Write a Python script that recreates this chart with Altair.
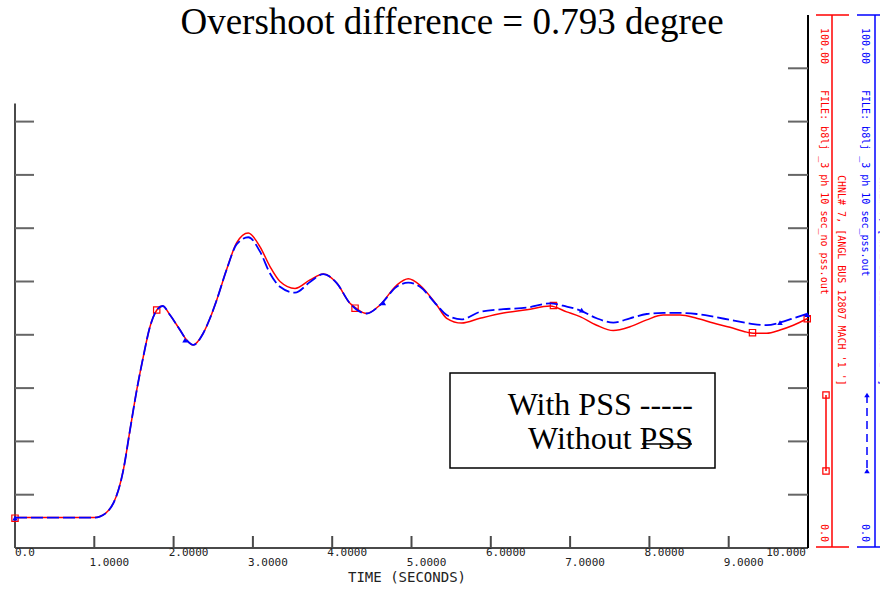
import altair as alt
import pandas as pd

# ---------------- data ----------------
time_s = [0.0, 0.5, 1.0, 1.07, 1.24, 1.366, 1.45, 1.535, 1.618, 1.702, 1.787, 1.862,
          1.955, 2.081, 2.165, 2.248, 2.374, 2.459, 2.543, 2.67, 2.796, 2.942, 3.09,
          3.216, 3.342, 3.531, 3.72, 3.888, 4.057, 4.224, 4.309, 4.435, 4.603, 4.813,
          4.96, 5.107, 5.318, 5.444, 5.633, 5.864, 6.158, 6.453, 6.747, 6.957, 7.125,
          7.335, 7.545, 7.755, 7.966, 8.175, 8.386, 8.596, 8.806, 9.016, 9.227, 9.31,
          9.479, 9.647, 9.815, 10.0]

angle_no_pss = [5.7, 5.7, 5.7, 5.9, 8.4, 14.6, 22.1, 29.6, 35.9, 41.5, 44.6, 45.4,
                43.7, 40.9, 39.0, 38.1, 40.3, 43.1, 46.5, 52.3, 57.3, 59.1, 56.5,
                52.8, 50.0, 48.7, 50.3, 51.4, 49.7, 45.9, 44.9, 44.0, 45.6, 49.3,
                50.5, 49.3, 45.6, 43.1, 42.2, 43.1, 44.1, 44.7, 45.4, 44.3, 43.4,
                41.8, 40.8, 41.5, 42.8, 43.7, 43.7, 43.1, 42.2, 41.4, 40.5, 40.3,
                40.3, 40.9, 41.8, 43.1]

angle_pss = [5.7, 5.7, 5.7, 5.9, 8.4, 14.6, 22.1, 29.6, 35.9, 41.5, 44.6, 45.4,
             43.7, 40.9, 39.0, 38.1, 40.3, 43.1, 46.5, 52.3, 57.0, 58.3, 55.6,
             51.5, 49.0, 47.9, 49.9, 51.4, 49.7, 45.9, 44.7, 44.0, 45.6, 49.0,
             49.8, 49.0, 45.6, 43.7, 42.9, 44.3, 44.8, 45.1, 45.9, 45.3, 44.6,
             43.1, 42.3, 43.1, 43.9, 44.1, 44.1, 43.9, 43.4, 42.8, 42.2, 42.0,
             41.8, 42.3, 43.1, 44.0]

marker_t_no_pss = [0.0, 1.787, 4.288, 6.79, 9.30, 9.99]
marker_v_no_pss = [5.6, 44.65, 45.0, 45.5, 40.4, 43.0]
marker_t_pss = [0.0, 2.144, 4.645, 7.146, 9.647, 9.99]
marker_v_pss = [5.6, 39.0, 46.0, 44.65, 42.3, 43.8]

x_tick_values = [0, 1, 2, 3, 4, 5, 6, 7, 8, 9, 10]
x_tick_labels = ["0.0", "1.0000", "2.0000", "3.0000", "4.0000", "5.0000",
                 "6.0000", "7.0000", "8.0000", "9.0000", "10.000"]
y_tick_values_left = [10, 20, 30, 40, 50, 60, 70, 80]
y_tick_values_right = [10, 20, 30, 40, 50, 60, 70, 80, 90]

title_text = "Overshoot difference = 0.793 degree"
x_title = "TIME  (SECONDS)"
legend_lines = ["With PSS -----", "Without PSS"]
red_texts = ["100.00", "FILE: b8lj _3 ph 10 sec_no pss.out",
             "CHNL# 7, [ANGL BUS 12807 MACH '1 ']", "0.0"]
blue_texts = ["100.00", "FILE: b8lj _3 ph 10 sec_pss.out",
              "CHNL# 7, [ANGL BUS 12807 MACH '1 ']", "0.0"]

# ---------------- layout ----------------
W, H = 793, 533
RED, BLUE = "#ff0000", "#0000ff"
AXC = "#4a4a4a"
MONO = "DejaVu Sans Mono"
SERIF = "Liberation Serif"

xs = alt.Scale(domain=[0, 10], nice=False, zero=False)
ys = alt.Scale(domain=[0, 100], nice=False, zero=False)


def X(f):
    return alt.X(f, type="quantitative", scale=xs, axis=None)


def Y(f):
    return alt.Y(f, type="quantitative", scale=ys, axis=None)


def PX(f):
    return alt.X(f, type="quantitative", scale=None, axis=None)


def PY(f):
    return alt.Y(f, type="quantitative", scale=None, axis=None)


one = pd.DataFrame({"k": [0]})

# curves
df_red = pd.DataFrame({"t": time_s, "v": angle_no_pss})
df_blue = pd.DataFrame({"t": time_s, "v": angle_pss})
red_line = alt.Chart(df_red).mark_line(color=RED, strokeWidth=1.5, interpolate="monotone").encode(
    x=X("t"), y=Y("v"))
blue_line = alt.Chart(df_blue).mark_line(color=BLUE, strokeWidth=1.8, strokeDash=[12, 4],
                                         interpolate="monotone").encode(x=X("t"), y=Y("v"))
red_pts = alt.Chart(pd.DataFrame({"t": marker_t_no_pss, "v": marker_v_no_pss})).mark_point(
    shape="square", size=40, filled=False, color=RED, strokeWidth=1.2, opacity=1).encode(
    x=X("t"), y=Y("v"))
blue_pts = alt.Chart(pd.DataFrame({"t": marker_t_pss, "v": marker_v_pss})).mark_point(
    shape="triangle-up", size=30, filled=True, color=BLUE, opacity=1).encode(
    x=X("t"), y=Y("v"))

# axis frame (in data units)
frame_lr = pd.DataFrame({"t": [0, 0], "t2": [10, 0], "v": [0, 0], "v2": [0, 83.4]})
frame = alt.Chart(frame_lr).mark_rule(color=AXC, strokeWidth=2).encode(
    x=X("t"), x2="t2:Q", y=Y("v"), y2="v2:Q")
right_axis = alt.Chart(pd.DataFrame({"t": [10], "v": [0], "v2": [100]})).mark_rule(
    color="black", strokeWidth=2).encode(x=X("t"), y=Y("v"), y2="v2:Q")

xt = pd.DataFrame({"t": x_tick_values[1:-1]})
x_ticks = alt.Chart(xt).mark_rule(color=AXC, strokeWidth=2).encode(
    x=X("t"), y=alt.value(H - 12), y2=alt.value(H))
lt = pd.DataFrame({"v": y_tick_values_left})
left_ticks = alt.Chart(lt).mark_rule(color="#666666", strokeWidth=2).encode(
    y=Y("v"), x=alt.value(0), x2=alt.value(19))
rt = pd.DataFrame({"v": y_tick_values_right})
right_ticks = alt.Chart(rt).mark_rule(color="#666666", strokeWidth=2).encode(
    y=Y("v"), x=alt.value(W - 20), x2=alt.value(W))

# x tick labels (staggered rows like the PSS/E plot)
lab = pd.DataFrame({"t": x_tick_values, "s": x_tick_labels})
lab_top = lab[(lab.t % 2 == 0) & (lab.t > 0) & (lab.t < 10)]
lab_low = lab[lab.t % 2 == 1]
lab_first = lab[lab.t == 0]
lab_last = lab[lab.t == 10]
tkw = dict(font=MONO, fontSize=11, color="#222222", baseline="middle")
lbl_top = alt.Chart(lab_top).mark_text(align="center", dx=15, **tkw).encode(
    x=X("t"), y=alt.value(538), text="s:N")
lbl_low = alt.Chart(lab_low).mark_text(align="center", dx=15, **tkw).encode(
    x=X("t"), y=alt.value(547.5), text="s:N")
lbl_first = alt.Chart(lab_first).mark_text(align="left", dx=0, **tkw).encode(
    x=X("t"), y=alt.value(538), text="s:N")
lbl_last = alt.Chart(lab_last).mark_text(align="right", dx=-2, **tkw).encode(
    x=X("t"), y=alt.value(538), text="s:N")
xtitle = alt.Chart(pd.DataFrame({"s": [x_title]})).mark_text(
    font=MONO, fontSize=14, color="#222222", align="center", baseline="middle").encode(
    x=alt.value(392), y=alt.value(563), text="s:N")

# title
title = alt.Chart(pd.DataFrame({"s": [title_text]})).mark_text(
    font=SERIF, fontSize=37, color="black", align="center", baseline="alphabetic").encode(
    x=alt.value(437), y=alt.value(19), text="s:N")

# legend box
box = alt.Chart(one).mark_rect(fill="white", stroke="black", strokeWidth=1.5).encode(
    x=alt.value(435), x2=alt.value(700), y=alt.value(358), y2=alt.value(453))
leg_txt = alt.Chart(pd.DataFrame({"s": legend_lines, "py": [400, 434]})).mark_text(
    font=SERIF, fontSize=32, color="black", align="right", baseline="alphabetic").encode(
    x=alt.value(678), y=PY("py"), text="s:N")
strike = alt.Chart(one).mark_rule(color="black", strokeWidth=1.5).encode(
    x=alt.value(627), x2=alt.value(677), y=alt.value(429))

# right-hand PSS/E channel panels
side = pd.DataFrame({
    "px": [817, 801, 801, 860, 842, 842, 811],
    "px2": [817, 834, 834, 860, 870, 870, 811],
    "py": [0, 0, 532, 0, 0, 532, 380],
    "py2": [532, 0, 532, 532, 0, 532, 456],
    "c": [RED, RED, RED, BLUE, BLUE, BLUE, RED],
})
side_rules = alt.Chart(side).mark_rule(strokeWidth=1.5).encode(
    x=PX("px"), x2="px2:Q", y=PY("py"), y2="py2:Q", color=alt.Color("c:N", scale=None))
blue_leg = alt.Chart(one).mark_rule(color=BLUE, strokeWidth=1.5, strokeDash=[8, 5]).encode(
    x=alt.value(852), y=alt.value(380), y2=alt.value(456))
side_sq = alt.Chart(pd.DataFrame({"py": [380, 456]})).mark_point(
    shape="square", size=40, filled=False, color=RED, strokeWidth=1.2, opacity=1).encode(
    x=alt.value(811), y=PY("py"))
side_tri = alt.Chart(pd.DataFrame({"py": [380, 456]})).mark_point(
    shape="triangle-up", size=30, filled=True, color=BLUE, opacity=1).encode(
    x=alt.value(852), y=PY("py"))

side_txt = pd.DataFrame({
    "s": red_texts + blue_texts,
    "px": [809, 809, 826, 809, 850, 850, 868, 850],
    "py": [13, 75, 160, 509, 13, 75, 160, 509],
    "c": [RED] * 4 + [BLUE] * 4,
})
side_text = alt.Chart(side_txt).mark_text(
    font=MONO, fontSize=10, angle=90, align="left", baseline="middle").encode(
    x=PX("px"), y=PY("py"), text="s:N", color=alt.Color("c:N", scale=None))

chart = alt.layer(
    frame, right_axis, x_ticks, left_ticks, right_ticks,
    red_line, red_pts, blue_line, blue_pts,
    lbl_top, lbl_low, lbl_first, lbl_last, xtitle, title,
    box, leg_txt, strike,
    side_rules, blue_leg, side_sq, side_tri, side_text,
).properties(
    width=W, height=H,
    padding={"left": 15, "top": 15, "right": 72, "bottom": 41},
    autosize=alt.AutoSizeParams(type="none"),
    background="white",
).configure_view(stroke=None)

chart.save("out.html", embed_options={"renderer": "svg", "actions": False})
